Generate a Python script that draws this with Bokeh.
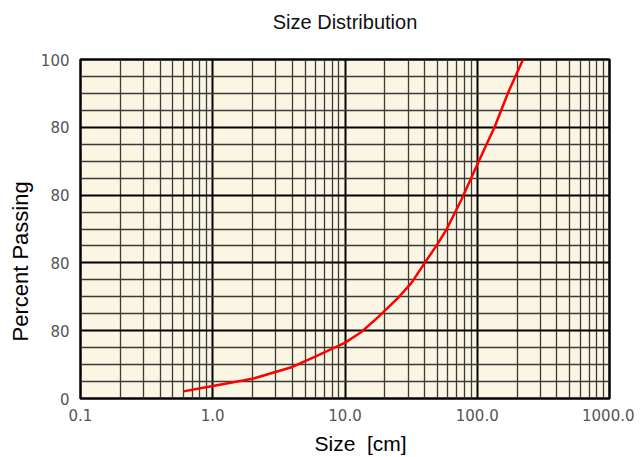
from bokeh.plotting import figure
from bokeh.models import FixedTicker, Title
from bokeh.embed import file_html
from bokeh.resources import INLINE

# Data
sizes_cm = [0.6, 1.0, 2.0, 4.0, 5.9, 9.96, 13.3, 17.8, 25.2, 31.8, 40.1, 50.7, 58.6, 76.0, 98.7, 136.0, 171.0, 222.0]
percent_passing = [2.1, 3.7, 5.8, 9.3, 12.3, 16.4, 19.6, 24.0, 29.7, 34.1, 40.0, 45.9, 49.9, 58.7, 68.5, 80.3, 90.2, 100.0]

x_ticks = [0.1, 1, 10, 100, 1000]
x_tick_labels = ["0.1", "1.0", "10.0", "100.0", "1000.0"]
y_ticks = [0, 20, 40, 60, 80, 100]
y_tick_labels = ["0", "80", "80", "80", "80", "100"]
y_minor = [v for v in range(0, 101, 5) if v % 20 != 0]
x_minor = [m * 10.0 ** e for e in range(-1, 3) for m in range(2, 10)]

p = figure(frame_width=529, frame_height=339, x_axis_type="log",
           x_range=(0.1, 1000), y_range=(0, 100),
           output_backend="svg", toolbar_location=None,
           min_border_left=0, min_border_right=25, min_border_top=0, min_border_bottom=0,
           background_fill_color="#FAF6E3", border_fill_color="white")

# panels above the frame, from the frame outwards
p.add_layout(Title(text="\u00a0", text_font_size="10px", standoff=12), "above")
p.add_layout(Title(text="Size Distribution", align="center", standoff=4,
                   text_font="Liberation Sans", text_font_size="20px",
                   text_font_style="normal", text_color="#111111"), "above")
p.add_layout(Title(text="\u00a0", text_font_size="3px", standoff=1), "above")

p.xaxis.ticker = FixedTicker(ticks=x_ticks, minor_ticks=x_minor)
p.yaxis.ticker = FixedTicker(ticks=y_ticks, minor_ticks=y_minor)
p.xaxis.major_label_overrides = {t: l for t, l in zip(x_ticks, x_tick_labels)}
p.yaxis.major_label_overrides = {t: l for t, l in zip(y_ticks, y_tick_labels)}

for ax in (p.xaxis, p.yaxis):
    ax.axis_line_color = None
    ax.major_tick_line_color = None
    ax.minor_tick_line_color = None
    ax.major_label_text_font = "DejaVu Sans"
    ax.major_label_text_font_size = "15px"
    ax.major_label_text_color = "#555555"
p.xaxis.major_label_standoff = 4
p.yaxis.major_label_standoff = 5

for g in (p.xgrid, p.ygrid):
    g.grid_line_color = "black"
    g.grid_line_width = 2
    g.grid_line_alpha = 1
    g.minor_grid_line_color = "#3a3a3a"
    g.minor_grid_line_width = 1.3

p.outline_line_color = "black"
p.outline_line_width = 2.5
p.outline_line_alpha = 1

p.line(sizes_cm, percent_passing, line_color="red", line_width=2.5)

p.add_layout(Title(text="Percent Passing", align="left", offset=57,
                   text_font="Liberation Sans", text_font_size="22px",
                   text_font_style="normal", text_color="black"), "left")
p.add_layout(Title(text="Size\u00a0 [cm]", align="left", offset=234, standoff=12,
                   text_font="Liberation Sans", text_font_size="21px",
                   text_font_style="normal", text_color="black"), "below")

open("out.html", "w").write(file_html(p, INLINE))
